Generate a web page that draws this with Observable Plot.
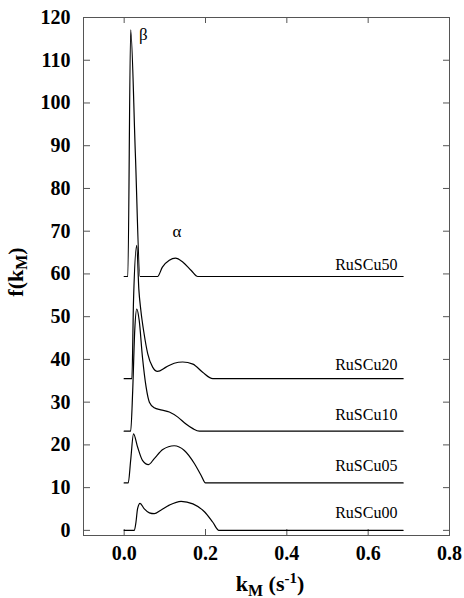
<!DOCTYPE html>
<html><head><meta charset="utf-8">
<script src="https://cdn.jsdelivr.net/npm/d3@7"></script>
<script src="https://cdn.jsdelivr.net/npm/@observablehq/plot@0.6"></script>
<style>body{margin:0;background:#fff}</style>
</head><body><div id="chart"></div>
<script>
// ---- data ----
const series = ["RuSCu00", "RuSCu05", "RuSCu10", "RuSCu20", "RuSCu50"];
const k00 = [0, 0.025, 0.029, 0.033, 0.039, 0.049, 0.062, 0.074, 0.09, 0.111, 0.14, 0.169, 0.198, 0.218, 0.233, 0.686];
const f00 = [0, 0, 1.9, 5.1, 6.3, 5.1, 4.1, 3.9, 4.7, 5.9, 6.8, 6.2, 4.3, 1.9, 0, 0];
const k05 = [0, 0.01, 0.016, 0.023, 0.033, 0.045, 0.06, 0.074, 0.095, 0.123, 0.148, 0.173, 0.189, 0.2, 0.686];
const f05 = [11.1, 11.1, 16.4, 22.6, 19.5, 16.4, 15.4, 16.8, 18.9, 19.8, 18.7, 15.6, 12.9, 11.1, 11.1];
const k10 = [0, 0.016, 0.021, 0.026, 0.031, 0.037, 0.045, 0.054, 0.062, 0.074, 0.09, 0.111, 0.132, 0.152, 0.169, 0.185, 0.686];
const f10 = [23.2, 23.2, 32.7, 46.8, 51.8, 49.1, 40.5, 33.5, 30.0, 28.7, 28.2, 27.7, 26.5, 24.9, 23.8, 23.2, 23.2];
const k20 = [0, 0.019, 0.023, 0.031, 0.036, 0.041, 0.049, 0.058, 0.07, 0.082, 0.103, 0.123, 0.144, 0.169, 0.193, 0.218, 0.686];
const f20 = [35.5, 35.5, 53.8, 66.7, 56.5, 51.5, 46.0, 41.3, 38.2, 37.2, 38.2, 39.1, 39.4, 38.9, 37.0, 35.5, 35.5];
const k50 = [0, 0.009, 0.016, 0.0275, 0.039, 0.082, 0.094, 0.111, 0.126, 0.144, 0.165, 0.181, 0.686];
const f50 = [59.4, 59.4, 117.1, 88.2, 59.4, 59.4, 61.6, 63.2, 63.7, 62.8, 60.8, 59.4, 59.4];
const labelK = 0.672;
const labelF = [4.0, 15.2, 27.1, 38.8, 62.2];
const greek = ["β", "α"];
const greekK = [0.047, 0.13];
const greekF = [115.9, 70];
const xTicks = [0, 0.2, 0.4, 0.6, 0.8];
const yTicks = [0, 10, 20, 30, 40, 50, 60, 70, 80, 90, 100, 110, 120];

// ---- build ----
const ks = [k00, k05, k10, k20, k50];
const fs = [f00, f05, f10, f20, f50];
const rows = series.flatMap((s, i) => ks[i].map((k, j) => ({series: s, k, f: fs[i][j]})));
const labels = series.map((s, i) => ({s, k: labelK, f: labelF[i]}));

const FONT = "Liberation Serif";
const W = 464, H = 598, mL = 83, mR = 15, mT = 17, mB = 63;
const innerW = W - mL - mR, innerH = H - mT - mB;
const axisColor = "#555";

const plot = Plot.plot({
  width: W, height: H,
  marginLeft: mL, marginRight: mR, marginTop: mT, marginBottom: mB,
  style: {fontFamily: FONT, background: "#fff", color: "#000", overflow: "visible"},
  x: {domain: [-0.1, 0.8], label: null},
  y: {domain: [-1.2, 120], label: null},
  marks: [
    Plot.frame({stroke: axisColor}),
    Plot.tickY(yTicks, {y: d => d, insetRight: innerW - 7, stroke: axisColor}),
    Plot.tickY(yTicks, {y: d => d, insetLeft: innerW - 6, stroke: axisColor}),
    Plot.tickX(xTicks, {x: d => d, insetTop: innerH - 6, stroke: axisColor}),
    Plot.tickX(xTicks, {x: d => d, insetBottom: innerH - 6, stroke: axisColor}),
    Plot.axisX(xTicks, {tickSize: 0, tickPadding: 10, tickFormat: d3.format(".1f"), fontSize: 20, fontWeight: "bold", fontFamily: FONT}),
    Plot.axisY(yTicks, {tickSize: 0, tickPadding: 13, fontSize: 20, fontWeight: "bold", fontFamily: FONT}),
    Plot.line(rows, {x: "k", y: "f", z: "series", curve: "monotone-x", stroke: "#000", strokeWidth: 1.2}),
    Plot.text(labels, {x: "k", y: "f", text: "s", textAnchor: "end", fontSize: 16, fontFamily: FONT}),
    Plot.text(greek, {x: greekK, y: greekF, text: d => d, fontSize: 17, fontFamily: FONT})
  ]
});

const svg = d3.select(plot);
// y title f(k_M)
const yt = svg.append("text")
  .attr("transform", "translate(18,272) rotate(-90)")
  .attr("text-anchor", "middle")
  .attr("dominant-baseline", "middle")
  .attr("font-family", FONT)
  .attr("font-weight", "bold").attr("font-size", 22).attr("fill", "#000");
yt.append("tspan").text("f(k");
yt.append("tspan").attr("dy", 5).attr("font-size", 16).text("M");
yt.append("tspan").attr("dy", -5).text(")");

// x title k_M (s^-1)
const xt = svg.append("text")
  .attr("x", 270).attr("y", 591)
  .attr("text-anchor", "middle")
  .attr("font-family", FONT)
  .attr("font-weight", "bold").attr("font-size", 22).attr("fill", "#000");
xt.append("tspan").text("k");
xt.append("tspan").attr("dy", 5).attr("font-size", 16).text("M");
xt.append("tspan").attr("dy", -5).text(" (s");
xt.append("tspan").attr("dy", -8).attr("font-size", 15).text("-1");
xt.append("tspan").attr("dy", 8).text(")");

document.getElementById("chart").append(plot);
</script>
</body></html>
